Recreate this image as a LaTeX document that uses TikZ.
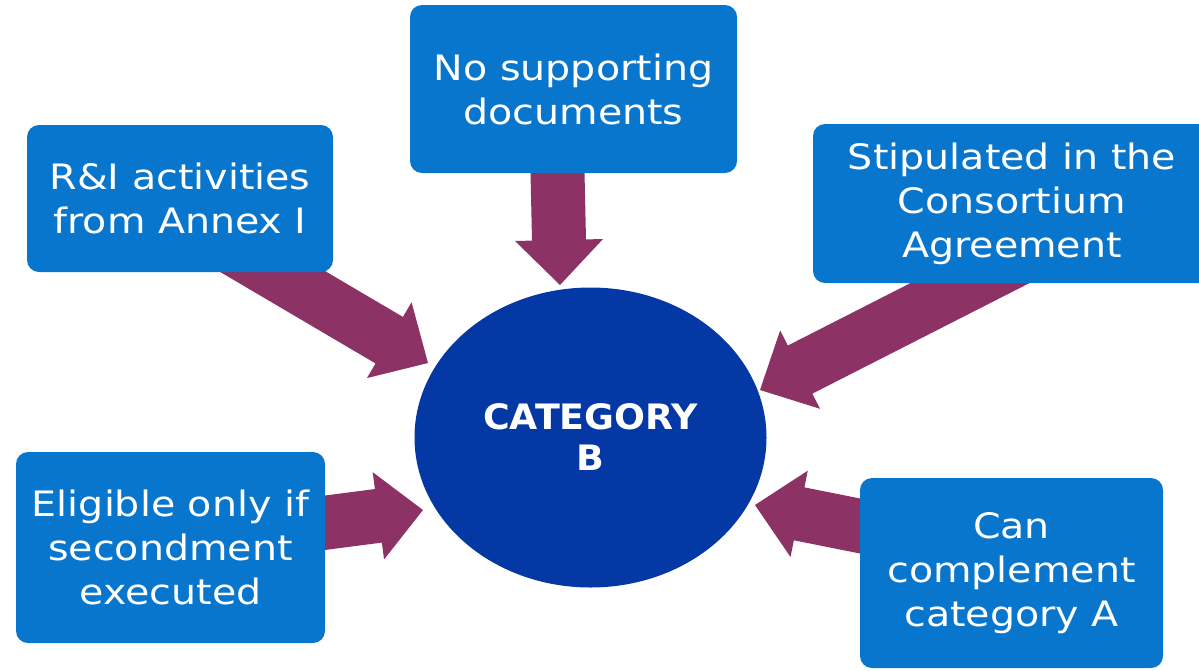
\documentclass[tikz,border=0pt]{standalone}
\usepackage{fontspec}
\newfontfamily\boxfont{DejaVu Sans}[FakeStretch=1.13]
\newfontfamily\catfont{DejaVu Sans}[FakeStretch=1.04]
\usetikzlibrary{calc,shapes.geometric}
\pgfdeclarelayer{background}
\pgfsetlayers{background,main}
\definecolor{boxblue}{RGB}{8,118,204}
\definecolor{ellblue}{RGB}{4,56,165}
\definecolor{arrpurple}{RGB}{140,50,100}
\tikzset{
  infobox/.style={fill=boxblue, rounded corners=12pt, text=white, align=center,
    font=\boxfont\fontsize{35}{44}\selectfont, inner sep=0pt},
  catnode/.style={ellipse, fill=ellblue, text=white, align=center,
    font=\catfont\bfseries\fontsize{35}{41}\selectfont, inner sep=0pt,
    minimum width=352pt, minimum height=300pt},
  blockarrow/.style={fill=arrpurple}
}
\newcommand\blockarr[2]{%
  \path ($(#2)!45pt!(#1)$) coordinate (ab);
  \fill[blockarrow] ($(#1)!27pt!90:(#2)$) -- ($(ab)!27pt!90:(#2)$) -- ($(ab)!44pt!90:(#2)$)
    -- (#2) -- ($(ab)!44pt!-90:(#2)$) -- ($(ab)!27pt!-90:(#2)$) -- ($(#1)!27pt!-90:(#2)$) -- cycle;
}
\begin{document}
\begin{tikzpicture}[x=1pt,y=-1pt]
\useasboundingbox (0,0) rectangle (1199,670);
\node[infobox, minimum width=306pt, minimum height=147pt] (b1) at (180,198.5) {R\&I activities\\from Annex I};
\node[infobox, minimum width=327pt, minimum height=168pt] (b2) at (573.5,89) {No supporting\\documents};
\node[infobox, minimum width=398pt, minimum height=159pt] (b3) at (1012,203.5) {Stipulated in the\\Consortium\\Agreement};
\node[infobox, minimum width=309pt, minimum height=191pt] (b4) at (170.5,547.5) {Eligible only if\\secondment\\executed};
\node[infobox, minimum width=303pt, minimum height=190pt] (b5) at (1011.5,573) {Can\\complement\\category A};
\node[catnode] (cat) at (590.5,437.5) {CATEGORY\\B};
\coordinate (s1) at (214,237);  \coordinate (t1) at (428,363);
\coordinate (s2) at (557,150);  \coordinate (t2) at (560,285);
\coordinate (s3) at (1031,252); \coordinate (t3) at (760,390);
\coordinate (s4) at (300,526);  \coordinate (t4) at (423,510);
\coordinate (s5) at (890,532);  \coordinate (t5) at (755,505);
\begin{pgfonlayer}{background}
\blockarr{s1}{t1}
\blockarr{s2}{t2}
\blockarr{s3}{t3}
\blockarr{s4}{t4}
\blockarr{s5}{t5}
\end{pgfonlayer}
\end{tikzpicture}
\end{document}
